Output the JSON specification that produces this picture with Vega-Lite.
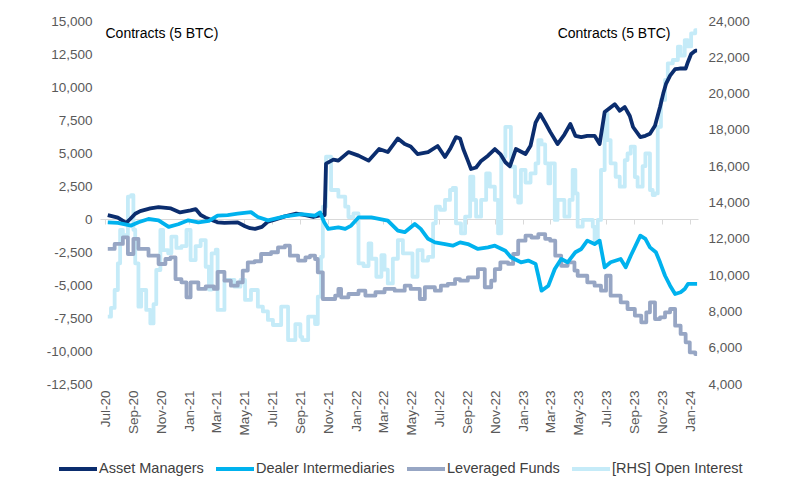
{
"$schema":"https://vega.github.io/schema/vega-lite/v6.json",
"width":598,"height":363,"autosize":"none",
"padding":{"left":100,"top":21,"right":103,"bottom":104},
"background":"white",
"config":{"font":"Liberation Sans","view":{"stroke":null},"axis":{"grid":false},
 "legend":{"orient":"none","legendX":-43,"legendY":427,"direction":"horizontal","symbolType":"stroke","symbolSize":1444,"symbolStrokeWidth":4,"labelFontSize":14.5,"labelColor":"#404040","labelOffset":0,"columnPadding":4,"padding":0,"titleFontSize":0,"titlePadding":0}},
"datasets":{
"amdi":[{"series":"Asset Managers","date":"2020-07-07","value":300},{"series":"Asset Managers","date":"2020-07-29","value":100},{"series":"Asset Managers","date":"2020-08-16","value":-300},{"series":"Asset Managers","date":"2020-08-25","value":0},{"series":"Asset Managers","date":"2020-09-05","value":400},{"series":"Asset Managers","date":"2020-09-16","value":600},{"series":"Asset Managers","date":"2020-10-08","value":800},{"series":"Asset Managers","date":"2020-10-26","value":900},{"series":"Asset Managers","date":"2020-11-22","value":800},{"series":"Asset Managers","date":"2020-12-12","value":500},{"series":"Asset Managers","date":"2021-01-04","value":650},{"series":"Asset Managers","date":"2021-01-15","value":750},{"series":"Asset Managers","date":"2021-01-26","value":300},{"series":"Asset Managers","date":"2021-02-06","value":100},{"series":"Asset Managers","date":"2021-03-04","value":-250},{"series":"Asset Managers","date":"2021-03-19","value":-300},{"series":"Asset Managers","date":"2021-04-17","value":-250},{"series":"Asset Managers","date":"2021-05-03","value":-550},{"series":"Asset Managers","date":"2021-05-14","value":-700},{"series":"Asset Managers","date":"2021-05-25","value":-750},{"series":"Asset Managers","date":"2021-06-09","value":-600},{"series":"Asset Managers","date":"2021-06-22","value":-200},{"series":"Asset Managers","date":"2021-07-07","value":-50},{"series":"Asset Managers","date":"2021-07-29","value":200},{"series":"Asset Managers","date":"2021-08-23","value":400},{"series":"Asset Managers","date":"2021-09-12","value":300},{"series":"Asset Managers","date":"2021-09-29","value":150},{"series":"Asset Managers","date":"2021-10-16","value":300},{"series":"Asset Managers","date":"2021-10-24","value":300},{"series":"Asset Managers","date":"2021-10-27","value":4200},{"series":"Asset Managers","date":"2021-11-12","value":4500},{"series":"Asset Managers","date":"2021-11-23","value":4420},{"series":"Asset Managers","date":"2021-12-15","value":5070},{"series":"Asset Managers","date":"2022-01-06","value":4800},{"series":"Asset Managers","date":"2022-01-28","value":4420},{"series":"Asset Managers","date":"2022-02-20","value":5300},{"series":"Asset Managers","date":"2022-03-11","value":5070},{"series":"Asset Managers","date":"2022-04-02","value":6100},{"series":"Asset Managers","date":"2022-04-17","value":5680},{"series":"Asset Managers","date":"2022-04-30","value":5500},{"series":"Asset Managers","date":"2022-05-15","value":4920},{"series":"Asset Managers","date":"2022-06-07","value":5070},{"series":"Asset Managers","date":"2022-06-28","value":5530},{"series":"Asset Managers","date":"2022-07-14","value":4700},{"series":"Asset Managers","date":"2022-07-25","value":5300},{"series":"Asset Managers","date":"2022-08-07","value":6200},{"series":"Asset Managers","date":"2022-08-16","value":6100},{"series":"Asset Managers","date":"2022-08-23","value":5300},{"series":"Asset Managers","date":"2022-09-02","value":4420},{"series":"Asset Managers","date":"2022-09-09","value":3790},{"series":"Asset Managers","date":"2022-09-20","value":3900},{"series":"Asset Managers","date":"2022-10-01","value":4400},{"series":"Asset Managers","date":"2022-10-16","value":4800},{"series":"Asset Managers","date":"2022-10-31","value":5300},{"series":"Asset Managers","date":"2022-11-12","value":4920},{"series":"Asset Managers","date":"2022-11-23","value":4300},{"series":"Asset Managers","date":"2022-12-03","value":4000},{"series":"Asset Managers","date":"2022-12-16","value":5300},{"series":"Asset Managers","date":"2023-01-06","value":4920},{"series":"Asset Managers","date":"2023-01-17","value":5550},{"series":"Asset Managers","date":"2023-01-28","value":7300},{"series":"Asset Managers","date":"2023-02-07","value":7950},{"series":"Asset Managers","date":"2023-02-18","value":7300},{"series":"Asset Managers","date":"2023-03-01","value":6600},{"series":"Asset Managers","date":"2023-03-17","value":5680},{"series":"Asset Managers","date":"2023-04-01","value":6400},{"series":"Asset Managers","date":"2023-04-14","value":7200},{"series":"Asset Managers","date":"2023-04-25","value":6300},{"series":"Asset Managers","date":"2023-05-08","value":6200},{"series":"Asset Managers","date":"2023-05-21","value":6300},{"series":"Asset Managers","date":"2023-06-06","value":6300},{"series":"Asset Managers","date":"2023-06-17","value":5680},{"series":"Asset Managers","date":"2023-06-28","value":8100},{"series":"Asset Managers","date":"2023-07-20","value":8700},{"series":"Asset Managers","date":"2023-07-31","value":8200},{"series":"Asset Managers","date":"2023-08-11","value":8480},{"series":"Asset Managers","date":"2023-08-22","value":7800},{"series":"Asset Managers","date":"2023-08-29","value":6970},{"series":"Asset Managers","date":"2023-09-14","value":6200},{"series":"Asset Managers","date":"2023-09-25","value":6300},{"series":"Asset Managers","date":"2023-10-05","value":6450},{"series":"Asset Managers","date":"2023-10-16","value":7070},{"series":"Asset Managers","date":"2023-10-27","value":8480},{"series":"Asset Managers","date":"2023-11-03","value":9500},{"series":"Asset Managers","date":"2023-11-09","value":10230},{"series":"Asset Managers","date":"2023-11-18","value":10860},{"series":"Asset Managers","date":"2023-11-29","value":11360},{"series":"Asset Managers","date":"2023-12-09","value":11400},{"series":"Asset Managers","date":"2023-12-22","value":11400},{"series":"Asset Managers","date":"2023-12-27","value":11900},{"series":"Asset Managers","date":"2024-01-03","value":12500},{"series":"Asset Managers","date":"2024-01-12","value":12750},{"series":"Asset Managers","date":"2024-01-16","value":12750},
{"series":"Dealer Intermediaries","date":"2020-07-07","value":-250},{"series":"Dealer Intermediaries","date":"2020-07-29","value":-300},{"series":"Dealer Intermediaries","date":"2020-08-14","value":-400},{"series":"Dealer Intermediaries","date":"2020-08-27","value":-500},{"series":"Dealer Intermediaries","date":"2020-09-12","value":-250},{"series":"Dealer Intermediaries","date":"2020-10-04","value":0},{"series":"Dealer Intermediaries","date":"2020-10-26","value":-100},{"series":"Dealer Intermediaries","date":"2020-11-17","value":-600},{"series":"Dealer Intermediaries","date":"2020-12-08","value":-400},{"series":"Dealer Intermediaries","date":"2020-12-30","value":-100},{"series":"Dealer Intermediaries","date":"2021-01-21","value":-250},{"series":"Dealer Intermediaries","date":"2021-02-13","value":-150},{"series":"Dealer Intermediaries","date":"2021-03-04","value":250},{"series":"Dealer Intermediaries","date":"2021-03-26","value":300},{"series":"Dealer Intermediaries","date":"2021-04-17","value":400},{"series":"Dealer Intermediaries","date":"2021-05-16","value":520},{"series":"Dealer Intermediaries","date":"2021-05-31","value":150},{"series":"Dealer Intermediaries","date":"2021-06-22","value":-100},{"series":"Dealer Intermediaries","date":"2021-07-29","value":200},{"series":"Dealer Intermediaries","date":"2021-09-03","value":370},{"series":"Dealer Intermediaries","date":"2021-10-03","value":250},{"series":"Dealer Intermediaries","date":"2021-10-14","value":500},{"series":"Dealer Intermediaries","date":"2021-10-23","value":-250},{"series":"Dealer Intermediaries","date":"2021-11-01","value":-750},{"series":"Dealer Intermediaries","date":"2021-11-23","value":-630},{"series":"Dealer Intermediaries","date":"2021-12-08","value":-750},{"series":"Dealer Intermediaries","date":"2021-12-21","value":-500},{"series":"Dealer Intermediaries","date":"2022-01-06","value":120},{"series":"Dealer Intermediaries","date":"2022-02-03","value":120},{"series":"Dealer Intermediaries","date":"2022-03-11","value":-120},{"series":"Dealer Intermediaries","date":"2022-04-02","value":-880},{"series":"Dealer Intermediaries","date":"2022-04-17","value":-1000},{"series":"Dealer Intermediaries","date":"2022-05-09","value":-380},{"series":"Dealer Intermediaries","date":"2022-05-22","value":-750},{"series":"Dealer Intermediaries","date":"2022-06-07","value":-1500},{"series":"Dealer Intermediaries","date":"2022-06-22","value":-1770},{"series":"Dealer Intermediaries","date":"2022-07-14","value":-1900},{"series":"Dealer Intermediaries","date":"2022-07-31","value":-2020},{"series":"Dealer Intermediaries","date":"2022-08-16","value":-1770},{"series":"Dealer Intermediaries","date":"2022-09-02","value":-1900},{"series":"Dealer Intermediaries","date":"2022-09-24","value":-2270},{"series":"Dealer Intermediaries","date":"2022-10-16","value":-2150},{"series":"Dealer Intermediaries","date":"2022-10-31","value":-2020},{"series":"Dealer Intermediaries","date":"2022-11-23","value":-2400},{"series":"Dealer Intermediaries","date":"2022-12-05","value":-2900},{"series":"Dealer Intermediaries","date":"2022-12-27","value":-3280},{"series":"Dealer Intermediaries","date":"2023-01-12","value":-3150},{"series":"Dealer Intermediaries","date":"2023-01-28","value":-3400},{"series":"Dealer Intermediaries","date":"2023-02-03","value":-4300},{"series":"Dealer Intermediaries","date":"2023-02-10","value":-5430},{"series":"Dealer Intermediaries","date":"2023-02-25","value":-5050},{"series":"Dealer Intermediaries","date":"2023-03-11","value":-3790},{"series":"Dealer Intermediaries","date":"2023-03-25","value":-3030},{"series":"Dealer Intermediaries","date":"2023-04-08","value":-3280},{"series":"Dealer Intermediaries","date":"2023-04-25","value":-2520},{"series":"Dealer Intermediaries","date":"2023-05-08","value":-2270},{"series":"Dealer Intermediaries","date":"2023-05-21","value":-1640},{"series":"Dealer Intermediaries","date":"2023-06-06","value":-1900},{"series":"Dealer Intermediaries","date":"2023-06-17","value":-1640},{"series":"Dealer Intermediaries","date":"2023-06-28","value":-3660},{"series":"Dealer Intermediaries","date":"2023-07-11","value":-3280},{"series":"Dealer Intermediaries","date":"2023-08-02","value":-3030},{"series":"Dealer Intermediaries","date":"2023-08-13","value":-3660},{"series":"Dealer Intermediaries","date":"2023-08-24","value":-2780},{"series":"Dealer Intermediaries","date":"2023-09-14","value":-1260},{"series":"Dealer Intermediaries","date":"2023-09-25","value":-1500},{"series":"Dealer Intermediaries","date":"2023-10-05","value":-2150},{"series":"Dealer Intermediaries","date":"2023-10-18","value":-2520},{"series":"Dealer Intermediaries","date":"2023-10-27","value":-3280},{"series":"Dealer Intermediaries","date":"2023-11-07","value":-4300},{"series":"Dealer Intermediaries","date":"2023-11-18","value":-5050},{"series":"Dealer Intermediaries","date":"2023-11-29","value":-5680},{"series":"Dealer Intermediaries","date":"2023-12-11","value":-5550},{"series":"Dealer Intermediaries","date":"2023-12-20","value":-5300},{"series":"Dealer Intermediaries","date":"2023-12-27","value":-4920},{"series":"Dealer Intermediaries","date":"2024-01-12","value":-4920},{"series":"Dealer Intermediaries","date":"2024-01-16","value":-4920}],
"lf":[{"date":"2020-07-07","value":-2270},{"date":"2020-07-22","value":-1890},{"date":"2020-08-09","value":-1390},{"date":"2020-08-20","value":-2650},{"date":"2020-09-01","value":-1500},{"date":"2020-09-12","value":-2270},{"date":"2020-10-04","value":-2780},{"date":"2020-10-26","value":-3410},{"date":"2020-11-10","value":-3030},{"date":"2020-11-21","value":-2900},{"date":"2020-12-02","value":-4550},{"date":"2020-12-15","value":-4800},{"date":"2020-12-26","value":-5930},{"date":"2021-01-04","value":-4800},{"date":"2021-01-21","value":-5300},{"date":"2021-02-06","value":-5100},{"date":"2021-02-24","value":-5300},{"date":"2021-03-04","value":-4000},{"date":"2021-03-19","value":-4670},{"date":"2021-04-02","value":-5050},{"date":"2021-04-17","value":-4800},{"date":"2021-04-28","value":-3910},{"date":"2021-05-09","value":-3280},{"date":"2021-05-24","value":-3200},{"date":"2021-06-07","value":-2650},{"date":"2021-06-29","value":-2520},{"date":"2021-07-14","value":-2150},{"date":"2021-07-29","value":-2020},{"date":"2021-08-09","value":-2780},{"date":"2021-08-27","value":-3150},{"date":"2021-09-12","value":-2900},{"date":"2021-09-22","value":-2780},{"date":"2021-10-03","value":-3030},{"date":"2021-10-09","value":-4040},{"date":"2021-10-20","value":-6060},{"date":"2021-11-05","value":-6060},{"date":"2021-11-16","value":-5800},{"date":"2021-11-23","value":-5300},{"date":"2021-11-29","value":-5930},{"date":"2021-12-15","value":-5680},{"date":"2022-01-06","value":-5430},{"date":"2022-01-21","value":-5800},{"date":"2022-02-12","value":-5550},{"date":"2022-03-04","value":-5300},{"date":"2022-03-26","value":-5430},{"date":"2022-04-17","value":-5050},{"date":"2022-04-30","value":-5300},{"date":"2022-05-20","value":-6060},{"date":"2022-05-31","value":-5170},{"date":"2022-06-22","value":-5430},{"date":"2022-07-05","value":-5050},{"date":"2022-07-20","value":-4920},{"date":"2022-08-05","value":-4550},{"date":"2022-08-16","value":-4670},{"date":"2022-09-02","value":-4420},{"date":"2022-09-24","value":-3790},{"date":"2022-10-09","value":-5170},{"date":"2022-10-23","value":-4670},{"date":"2022-10-31","value":-3790},{"date":"2022-11-12","value":-3280},{"date":"2022-11-29","value":-3400},{"date":"2022-12-10","value":-2650},{"date":"2022-12-21","value":-1640},{"date":"2023-01-06","value":-1260},{"date":"2023-01-19","value":-1400},{"date":"2023-02-03","value":-1140},{"date":"2023-02-18","value":-1500},{"date":"2023-03-01","value":-1640},{"date":"2023-03-12","value":-2780},{"date":"2023-03-25","value":-3540},{"date":"2023-04-08","value":-3280},{"date":"2023-04-23","value":-3910},{"date":"2023-04-30","value":-4300},{"date":"2023-05-21","value":-4800},{"date":"2023-06-06","value":-5050},{"date":"2023-06-20","value":-5430},{"date":"2023-07-01","value":-4300},{"date":"2023-07-11","value":-5810},{"date":"2023-08-02","value":-6310},{"date":"2023-08-17","value":-6820},{"date":"2023-09-02","value":-7320},{"date":"2023-09-16","value":-7830},{"date":"2023-09-27","value":-7070},{"date":"2023-10-05","value":-6310},{"date":"2023-10-16","value":-7580},{"date":"2023-10-27","value":-7450},{"date":"2023-11-07","value":-7070},{"date":"2023-11-18","value":-6820},{"date":"2023-11-29","value":-8080},{"date":"2023-12-11","value":-8710},{"date":"2023-12-22","value":-9340},{"date":"2023-12-31","value":-10100},{"date":"2024-01-12","value":-10230},{"date":"2024-01-16","value":-10230}],
"oi":[{"date":"2020-07-07","value":7710},{"date":"2020-07-14","value":8190},{"date":"2020-07-22","value":9180},{"date":"2020-07-29","value":10650},{"date":"2020-08-03","value":12490},{"date":"2020-08-09","value":12200},{"date":"2020-08-20","value":14320},{"date":"2020-08-27","value":14400},{"date":"2020-09-01","value":12500},{"date":"2020-09-05","value":10650},{"date":"2020-09-12","value":8260},{"date":"2020-09-18","value":9180},{"date":"2020-09-29","value":8080},{"date":"2020-10-08","value":7340},{"date":"2020-10-15","value":8400},{"date":"2020-10-21","value":10280},{"date":"2020-10-30","value":12490},{"date":"2020-11-05","value":11380},{"date":"2020-11-16","value":11200},{"date":"2020-11-23","value":12120},{"date":"2020-12-04","value":11500},{"date":"2020-12-15","value":11600},{"date":"2020-12-26","value":12490},{"date":"2021-01-04","value":10830},{"date":"2021-01-15","value":11600},{"date":"2021-01-26","value":11930},{"date":"2021-02-06","value":10460},{"date":"2021-02-13","value":9200},{"date":"2021-02-19","value":11200},{"date":"2021-02-28","value":11400},{"date":"2021-03-04","value":8080},{"date":"2021-03-19","value":9730},{"date":"2021-04-10","value":9360},{"date":"2021-04-23","value":9730},{"date":"2021-05-03","value":8630},{"date":"2021-05-16","value":9180},{"date":"2021-05-31","value":8260},{"date":"2021-06-11","value":8000},{"date":"2021-06-22","value":7530},{"date":"2021-07-03","value":7250},{"date":"2021-07-21","value":8260},{"date":"2021-08-05","value":6420},{"date":"2021-08-21","value":7300},{"date":"2021-09-01","value":6600},{"date":"2021-09-05","value":6420},{"date":"2021-09-18","value":7710},{"date":"2021-10-03","value":7300},{"date":"2021-10-09","value":8810},{"date":"2021-10-16","value":11010},{"date":"2021-10-20","value":13770},{"date":"2021-10-27","value":16520},{"date":"2021-11-07","value":14690},{"date":"2021-11-23","value":14320},{"date":"2021-12-08","value":13770},{"date":"2021-12-15","value":13200},{"date":"2021-12-26","value":13400},{"date":"2022-01-06","value":10650},{"date":"2022-01-17","value":10500},{"date":"2022-01-28","value":11750},{"date":"2022-02-03","value":10900},{"date":"2022-02-14","value":9910},{"date":"2022-02-25","value":11100},{"date":"2022-03-04","value":10300},{"date":"2022-03-11","value":9540},{"date":"2022-03-22","value":10900},{"date":"2022-04-02","value":11930},{"date":"2022-04-13","value":11200},{"date":"2022-04-24","value":11200},{"date":"2022-05-04","value":9910},{"date":"2022-05-15","value":11380},{"date":"2022-05-26","value":10800},{"date":"2022-06-07","value":11000},{"date":"2022-06-18","value":12850},{"date":"2022-06-24","value":13770},{"date":"2022-07-03","value":13600},{"date":"2022-07-14","value":14140},{"date":"2022-07-25","value":14690},{"date":"2022-07-31","value":14800},{"date":"2022-08-07","value":12850},{"date":"2022-08-18","value":12300},{"date":"2022-08-27","value":13220},{"date":"2022-09-07","value":15420},{"date":"2022-09-14","value":14140},{"date":"2022-09-20","value":13220},{"date":"2022-10-01","value":14140},{"date":"2022-10-12","value":15600},{"date":"2022-10-20","value":14870},{"date":"2022-10-31","value":14140},{"date":"2022-11-07","value":12300},{"date":"2022-11-14","value":16520},{"date":"2022-11-23","value":18170},{"date":"2022-11-29","value":18170},{"date":"2022-12-05","value":15970},{"date":"2022-12-14","value":14320},{"date":"2022-12-21","value":14000},{"date":"2022-12-27","value":15800},{"date":"2023-01-06","value":15100},{"date":"2023-01-17","value":15600},{"date":"2023-01-28","value":16160},{"date":"2023-02-03","value":17440},{"date":"2023-02-10","value":17200},{"date":"2023-02-18","value":16160},{"date":"2023-02-25","value":15050},{"date":"2023-03-01","value":16160},{"date":"2023-03-11","value":13040},{"date":"2023-03-17","value":14140},{"date":"2023-03-25","value":14140},{"date":"2023-04-01","value":13220},{"date":"2023-04-12","value":14140},{"date":"2023-04-19","value":15790},{"date":"2023-04-25","value":14500},{"date":"2023-04-30","value":12670},{"date":"2023-05-11","value":13040},{"date":"2023-05-21","value":13040},{"date":"2023-06-02","value":12670},{"date":"2023-06-06","value":11930},{"date":"2023-06-13","value":13040},{"date":"2023-06-20","value":15790},{"date":"2023-06-28","value":18910},{"date":"2023-07-04","value":17440},{"date":"2023-07-11","value":16160},{"date":"2023-07-22","value":15420},{"date":"2023-07-31","value":14870},{"date":"2023-08-11","value":16340},{"date":"2023-08-17","value":16700},{"date":"2023-08-24","value":17080},{"date":"2023-09-02","value":15400},{"date":"2023-09-08","value":14870},{"date":"2023-09-19","value":16000},{"date":"2023-09-25","value":16700},{"date":"2023-10-05","value":14690},{"date":"2023-10-11","value":14410},{"date":"2023-10-16","value":14500},{"date":"2023-10-22","value":18170},{"date":"2023-10-29","value":19650},{"date":"2023-11-07","value":20750},{"date":"2023-11-13","value":21670},{"date":"2023-11-24","value":21850},{"date":"2023-12-05","value":22580},{"date":"2023-12-11","value":22100},{"date":"2023-12-20","value":22950},{"date":"2023-12-27","value":22600},{"date":"2024-01-03","value":23320},{"date":"2024-01-12","value":23500},{"date":"2024-01-16","value":23500}]
},
"layer":[
{"data":{"name":"oi"},
 "mark":{"type":"line","interpolate":"step-after","strokeWidth":3.8,"strokeJoin":"round"},
 "encoding":{
  "x":{"field":"date","type":"temporal","title":null,"scale":{"type":"utc","domain":[{"year":2020,"month":6,"date":20,"utc":true},{"year":2024,"month":1,"date":18,"utc":true}]},
   "axis":{"format":"%b-%y","tickCount":{"interval":"month","step":2},"offset":-165,"labelAngle":270,"labelFontSize":13.5,"labelColor":"#595959","labelPadding":166,"domain":true,"domainColor":"#D9D9D9","ticks":true,"tickColor":"#D9D9D9","tickSize":5,"grid":false,"labelOverlap":false,"labelFlush":false,"labelBound":false}},
  "y":{"field":"value","type":"quantitative","scale":{"domain":[4000,24000],"nice":false,"zero":false},
   "axis":{"orient":"right","values":[4000,6000,8000,10000,12000,14000,16000,18000,20000,22000,24000],"labelExpr":"format(datum.value, ',.0f')","labelFontSize":13.5,"labelColor":"#595959","labelPadding":10,"domain":false,"ticks":false,"grid":false,"title":"Contracts (5 BTC)","titleAngle":0,"titleAlign":"right","titleBaseline":"middle","titleX":-28,"titleY":12,"titleFontSize":14,"titleFontWeight":"normal","titleColor":"#000000"}},
  "color":{"datum":"[RHS] Open Interest","type":"nominal","title":null,
   "scale":{"domain":["Asset Managers","Dealer Intermediaries","Leveraged Funds","[RHS] Open Interest"],"range":["#0B2D6E","#00B2EE","#97A6C4","#C5EBF8"]},
   "legend":{"title":null,"orient":"none","legendX":-43,"legendY":427,"direction":"horizontal"}}
 }},
{"data":{"name":"lf"},
 "mark":{"type":"line","interpolate":"step-after","strokeWidth":3.8,"strokeJoin":"round"},
 "encoding":{
  "x":{"field":"date","type":"temporal","title":null,"scale":{"type":"utc","domain":[{"year":2020,"month":6,"date":20,"utc":true},{"year":2024,"month":1,"date":18,"utc":true}]},
   "axis":{"format":"%b-%y","tickCount":{"interval":"month","step":2},"offset":-165,"labelAngle":270,"labelFontSize":13.5,"labelColor":"#595959","labelPadding":166,"domain":true,"domainColor":"#D9D9D9","ticks":true,"tickColor":"#D9D9D9","tickSize":5,"grid":false,"labelOverlap":false,"labelFlush":false,"labelBound":false}},
  "y":{"field":"value","type":"quantitative","scale":{"domain":[-12500,15000],"nice":false,"zero":false},
   "axis":{"orient":"left","values":[-12500,-10000,-7500,-5000,-2500,0,2500,5000,7500,10000,12500,15000],"labelExpr":"replace(format(datum.value, ',.0f'), '\u2212', '-')","labelFontSize":13.5,"labelColor":"#595959","labelPadding":8,"domain":false,"ticks":false,"grid":false,"title":"Contracts (5 BTC)","titleAngle":0,"titleAlign":"left","titleBaseline":"middle","titleX":5,"titleY":12,"titleFontSize":14,"titleFontWeight":"normal","titleColor":"#000000"}},
  "color":{"datum":"Leveraged Funds","type":"nominal","title":null,
   "legend":{"title":null,"orient":"none","legendX":-43,"legendY":427,"direction":"horizontal"}}}},
{"data":{"name":"amdi"},
 "mark":{"type":"line","strokeWidth":3.8,"strokeJoin":"round"},
 "encoding":{
  "x":{"field":"date","type":"temporal","title":null,"scale":{"type":"utc","domain":[{"year":2020,"month":6,"date":20,"utc":true},{"year":2024,"month":1,"date":18,"utc":true}]},
   "axis":{"format":"%b-%y","tickCount":{"interval":"month","step":2},"offset":-165,"labelAngle":270,"labelFontSize":13.5,"labelColor":"#595959","labelPadding":166,"domain":true,"domainColor":"#D9D9D9","ticks":true,"tickColor":"#D9D9D9","tickSize":5,"grid":false,"labelOverlap":false,"labelFlush":false,"labelBound":false}},
  "y":{"field":"value","type":"quantitative","scale":{"domain":[-12500,15000],"nice":false,"zero":false},"axis":null},
  "color":{"field":"series","type":"nominal","title":null,
   "legend":{"title":null,"orient":"none","legendX":-43,"legendY":427,"direction":"horizontal"}},
  "order":{"field":"series","sort":"descending"}}}
],
"resolve":{"scale":{"y":"independent"}}
}
